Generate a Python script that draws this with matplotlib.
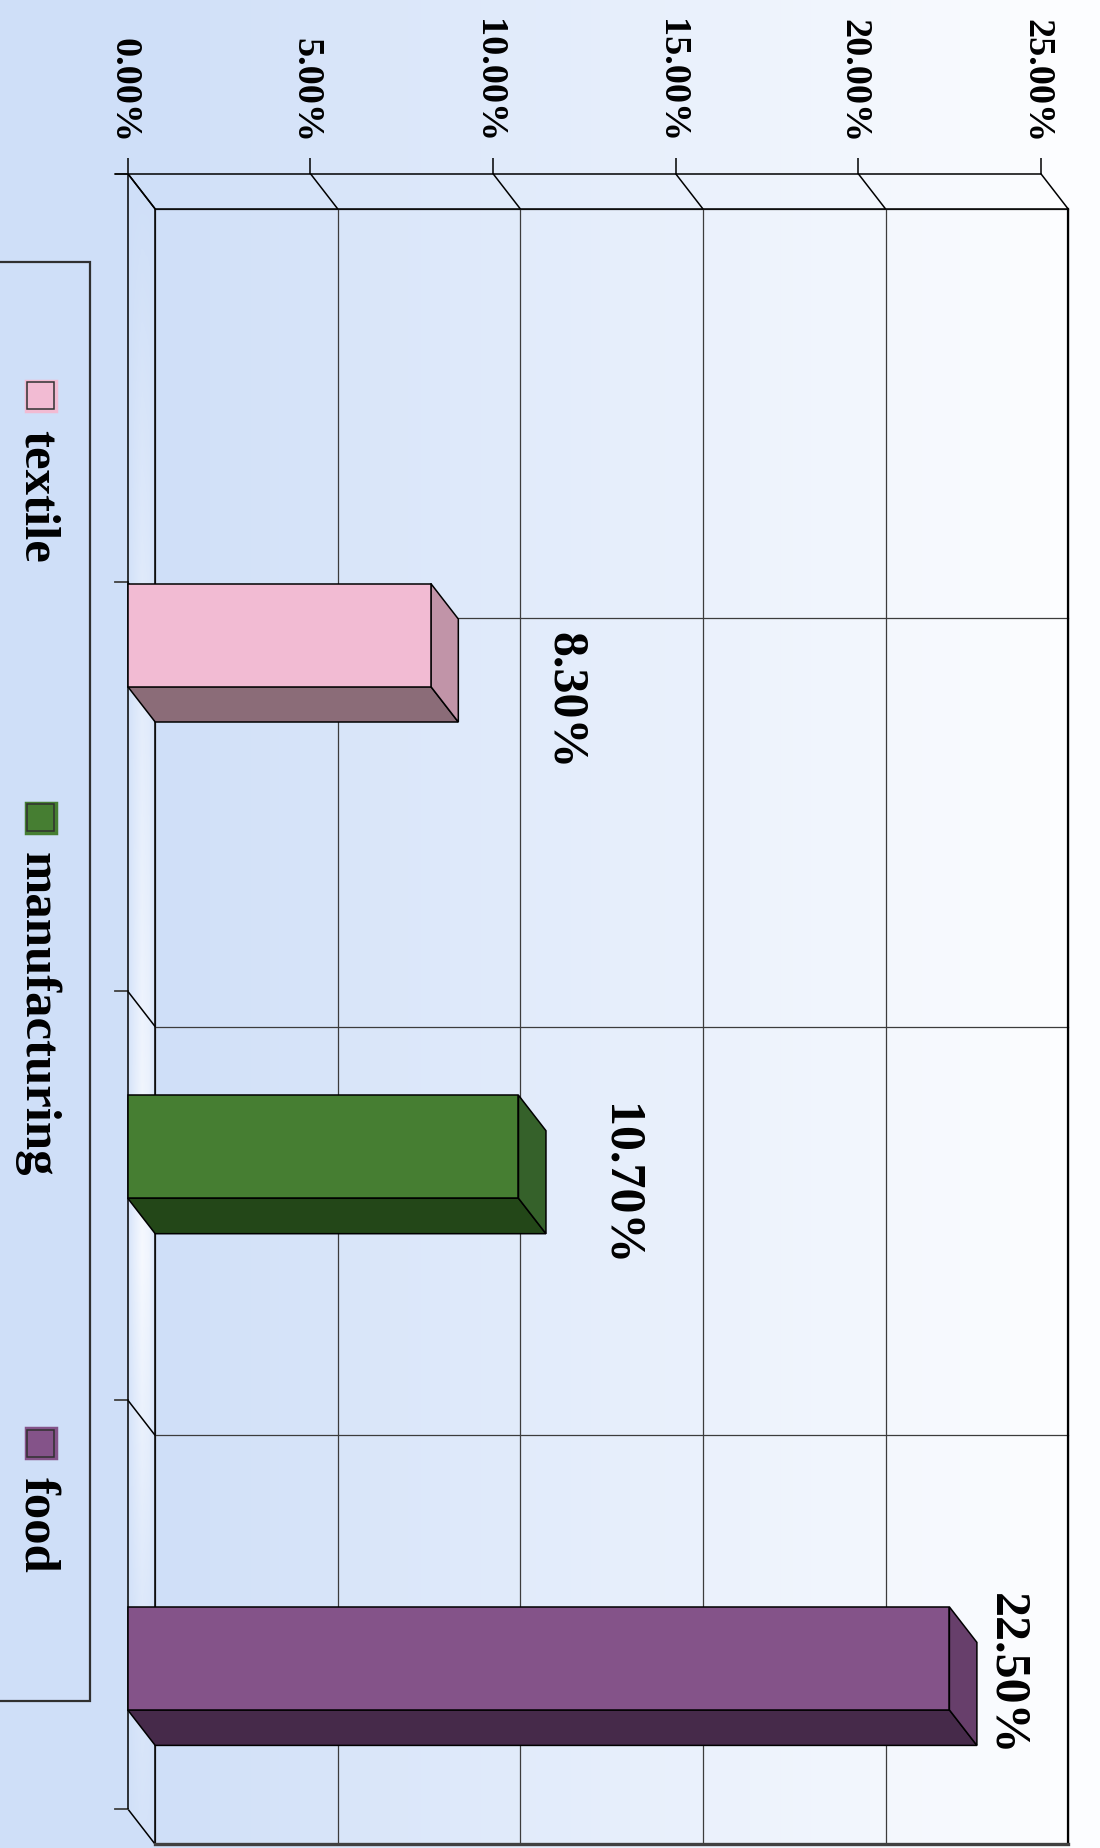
import numpy as np
import matplotlib
matplotlib.use("Agg")
import matplotlib.pyplot as plt
from matplotlib.patches import Polygon, Rectangle
from matplotlib.transforms import blended_transform_factory, offset_copy

# data
categories = ["textile", "manufacturing", "food"]
values = [8.3, 10.7, 22.5]
value_labels = ["8.30%", "10.70%", "22.50%"]
value_ticks = [0, 5, 10, 15, 20, 25]
tick_labels = ["0.00%", "5.00%", "10.00%", "15.00%", "20.00%", "25.00%"]

front_colors = ["#f2bbd3", "#467e32", "#845389"]
end_colors = ["#c194a8", "#35612a", "#673f6b"]
under_colors = ["#8b6c78", "#234718", "#462a4a"]

# layout, in pixels of the 1100x1849 picture
W, H = 1100, 1849
x0_px, px_per_pct = 127.7, 36.52      # 0 % position, pixels per percent
y0_px, px_per_cat = 636.0, 511.7      # first bar centre, pixels between bars
bar_h = 103 / px_per_cat
dx = 27.5 / px_per_pct                # 3d depth along the value axis
dy = 35.5 / px_per_cat                # 3d depth along the category axis
cat_top = (174.5 - y0_px) / px_per_cat
cat_bot = (1809.8 - y0_px) / px_per_cat
n_div = 4
vmax = value_ticks[-1]

serif = dict(family="Liberation Serif", weight="bold")

fig = plt.figure(figsize=(W / 100, H / 100), dpi=100)

# pixel axes for background and legend
pax = fig.add_axes([0, 0, 1, 1])
pax.set_xlim(0, W)
pax.set_ylim(H, 0)
pax.axis("off")
pax.set_zorder(0)

left_c = np.array([207, 223, 248]) / 255
right_c = np.array([252, 253, 255]) / 255
t = np.clip((np.arange(W) - 150) / 900, 0, 1)[:, None]
grad = (left_c * (1 - t) + right_c * t)[None, :, :]
pax.imshow(grad, extent=(0, W, H, 0), aspect="auto", zorder=0)

# main axes: x = percent, y = category index
ax = fig.add_axes([0, 0, 1, 1])
ax.set_zorder(1)
ax.patch.set_visible(False)
ax.axis("off")
xlim = (-x0_px / px_per_pct, (W - x0_px) / px_per_pct)
ylim = ((H - y0_px) / px_per_cat, -y0_px / px_per_cat)

# glossy floor strip
floor = Polygon([(0, cat_top), (0, cat_bot), (dx, cat_bot + dy), (dx, cat_top + dy)],
                closed=True, facecolor="none", edgecolor="none")
ax.add_patch(floor)
wx = np.interp(np.linspace(0, 1, 30), [0, 0.2, 0.5, 0.75, 1], [0.2, 0.55, 1.0, 0.85, 0.3])
wy = np.interp(np.linspace(0, 1, 200), [0, 0.25, 0.65, 0.85, 1], [0.0, 0.45, 1.0, 0.4, 0.15])
w = (wy[:, None] * wx[None, :])[:, :, None]
white = np.array([246, 249, 255]) / 255
strip = left_c * (1 - w) + white * w
im = ax.imshow(strip, extent=(0, dx, cat_bot + dy, cat_top), aspect="auto", zorder=1)
im.set_clip_path(floor)

line_kw = dict(color="black", lw=1.1, zorder=3, solid_capstyle="butt")
grid_kw = dict(color="#3c3c3c", lw=0.9, zorder=2)
cat_lines = np.linspace(cat_top, cat_bot, n_div + 1)

# back wall grid
for v in value_ticks:
    ax.plot([v + dx, v + dx], [cat_top + dy, cat_bot + dy], **grid_kw)
for c in cat_lines:
    ax.plot([dx, vmax + dx], [c + dy, c + dy], **grid_kw)

# diagonals, axis lines and ticks
tick_up = 16 / px_per_cat
tick_left = 13 / px_per_pct
for v in value_ticks:
    ax.plot([v, v + dx], [cat_top, cat_top + dy], **line_kw)
    ax.plot([v, v], [cat_top - tick_up, cat_top], **line_kw)
for c in cat_lines:
    ax.plot([0, dx], [c, c + dy], **line_kw)
    ax.plot([-tick_left, 0], [c, c], color="#404040", lw=1.3, zorder=3)
ax.plot([-tick_left, vmax], [cat_top, cat_top], **line_kw)
ax.plot([0, 0], [cat_top, cat_bot], **line_kw)
ax.plot([dx, dx], [cat_top + dy, cat_bot + dy], **line_kw)
ax.plot([dx, vmax + dx], [cat_top + dy, cat_top + dy], **line_kw)
ax.plot([vmax + dx, vmax + dx], [cat_top + dy, cat_bot + dy], color="black", lw=1.6, zorder=3)
ax.plot([dx, vmax + dx], [cat_bot + dy, cat_bot + dy], color="#404040", lw=2.4, zorder=3)

# 3d bars
bar_kw = dict(edgecolor="black", lw=1.1, zorder=4, joinstyle="miter")
for i, v in enumerate(values):
    y0, y1 = i - bar_h / 2, i + bar_h / 2
    ax.add_patch(Polygon([(0, y1), (v, y1), (v + dx, y1 + dy), (dx, y1 + dy)],
                         facecolor=under_colors[i], **bar_kw))
    ax.add_patch(Polygon([(v, y0), (v + dx, y0 + dy), (v + dx, y1 + dy), (v, y1)],
                         facecolor=end_colors[i], **bar_kw))
    ax.add_patch(Rectangle((0, y0), v, bar_h, facecolor=front_colors[i], **bar_kw))

# data labels (pixel offsets from the bar end)
label_off = [(112, 65), (79, 37), (35, 15)]
for i, v in enumerate(values):
    tr = offset_copy(ax.transData, fig=fig, x=label_off[i][0], y=-label_off[i][1], units="dots")
    ax.text(v + dx, i, value_labels[i], transform=tr, rotation=-90, rotation_mode="anchor",
            ha="center", va="center_baseline", fontsize=36, zorder=5, **serif)

# value tick labels
tick_tr = blended_transform_factory(ax.transData, pax.transData)
for v, lab in zip(value_ticks, tick_labels):
    ax.text(v, 143, lab, transform=tick_tr, rotation=-90, rotation_mode="anchor",
            ha="right", va="center_baseline", fontsize=27.5, zorder=5, **serif)

ax.set_xlim(*xlim)
ax.set_ylim(*ylim)

# legend
pax.add_patch(Rectangle((-5, 263), 95, 1439, facecolor="none", edgecolor="#303030", lw=1.6, zorder=2))
legend_y = [396.7, 818.5, 1444.0]
for name, col, cy in zip(categories, front_colors, legend_y):
    pax.add_patch(Rectangle((40.5 - 15, cy - 15), 30, 30, facecolor=col, edgecolor=col, lw=2.5, zorder=2))
    pax.add_patch(Rectangle((40.5 - 13.5, cy - 13.5), 27, 27, facecolor=col, edgecolor="#303030", lw=1.1, zorder=3))
    pax.text(25, cy + 33, name, rotation=-90, rotation_mode="anchor", ha="left", va="baseline",
             fontsize=36.5, zorder=3, **serif)

fig.savefig("out.png", dpi=100)
